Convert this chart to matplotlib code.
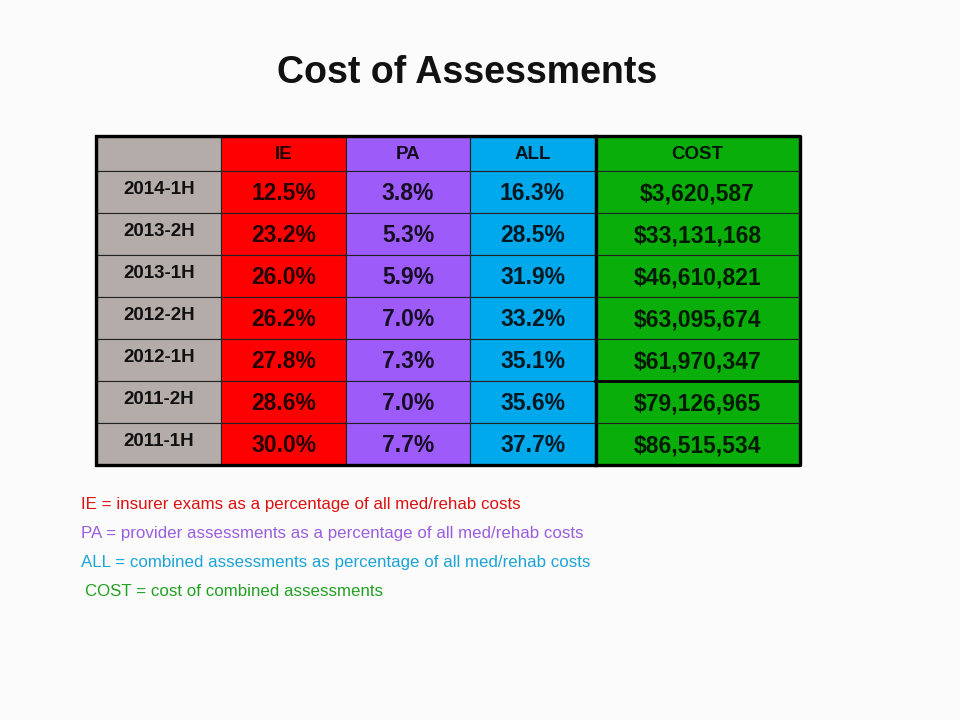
import matplotlib
matplotlib.use("Agg")
import matplotlib.pyplot as plt
from matplotlib.patches import Rectangle

plt.rcParams['font.family'] = ['Liberation Sans', 'DejaVu Sans']

# table data
periods = ['2014-1H', '2013-2H', '2013-1H', '2012-2H', '2012-1H', '2011-2H', '2011-1H']
ie_pct = [12.5, 23.2, 26.0, 26.2, 27.8, 28.6, 30.0]
pa_pct = [3.8, 5.3, 5.9, 7.0, 7.3, 7.0, 7.7]
all_pct = [16.3, 28.5, 31.9, 33.2, 35.1, 35.6, 37.7]
cost = [3620587, 33131168, 46610821, 63095674, 61970347, 79126965, 86515534]

headers = ['', 'IE', 'PA', 'ALL', 'COST']
col_colors = ['#b3aca8', '#ff0000', '#9d5cfa', '#00a9ec', '#0aae0a']

notes = [
    ('IE = insurer exams as a percentage of all med/rehab costs', '#dd1111'),
    ('PA = provider assessments as a percentage of all med/rehab costs', '#9a5ee0'),
    ('ALL = combined assessments as percentage of all med/rehab costs', '#1ca3d8'),
    ('COST = cost of combined assessments', '#22a022'),
]

# layout in pixels
col_edges = [97, 221, 346, 470, 595, 800]
head_top, head_bot = 137, 171
row_h = 42

fig = plt.figure(figsize=(9.6, 7.2), dpi=100)
fig.patch.set_facecolor('#fbfbfb')
ax = fig.add_axes([0, 0, 1, 1])
ax.set_xlim(0, 960)
ax.set_ylim(720, 0)
ax.axis('off')

ax.text(467, 83, 'Cost of Assessments', ha='center', va='baseline',
        fontsize=27, fontweight='bold', color='#111111')

columns = [
    periods,
    [f'{v:.1f}%' for v in ie_pct],
    [f'{v:.1f}%' for v in pa_pct],
    [f'{v:.1f}%' for v in all_pct],
    [f'${v:,}' for v in cost],
]

for c in range(5):
    x0, x1 = col_edges[c], col_edges[c + 1]
    xm = (x0 + x1) / 2
    # header cell
    ax.add_patch(Rectangle((x0, head_top), x1 - x0, head_bot - head_top,
                           facecolor=col_colors[c], edgecolor='#222222', lw=0.8))
    ax.text(xm, 159, headers[c], ha='center', va='baseline', fontsize=13.5,
            fontweight='bold', color='black', alpha=0.88)
    for r, val in enumerate(columns[c]):
        y0 = head_bot + r * row_h
        ax.add_patch(Rectangle((x0, y0), x1 - x0, row_h,
                               facecolor=col_colors[c], edgecolor='#222222', lw=0.8))
        if c == 0:
            ax.text(xm, y0 + 23, val, ha='center', va='baseline', fontsize=13.5,
                    fontweight='bold', color='black', alpha=0.9)
        else:
            ax.text(xm, y0 + 29, val, ha='center', va='baseline', fontsize=16.5,
                    fontweight='bold', color='black', alpha=0.85)

table_bot = head_bot + len(periods) * row_h
# thick outer borders
ax.add_patch(Rectangle((col_edges[0] - 1, head_top - 1), col_edges[4] - col_edges[0] + 2,
                       table_bot - head_top + 1, facecolor='none', edgecolor='black', lw=2.4))
ax.plot([col_edges[4], col_edges[5], col_edges[5], col_edges[4]],
        [head_top - 1, head_top - 1, table_bot, table_bot], color='black', lw=2.4)
ax.plot([col_edges[4], col_edges[5]], [head_bot + 5 * row_h] * 2, color='black', lw=2.0)

for i, (txt, colr) in enumerate(notes):
    x = 85 if i == 3 else 81
    ax.text(x, 509 + i * 29, txt, ha='left', va='baseline', fontsize=12.2, color=colr)

fig.savefig('out.png', dpi=100, facecolor=fig.get_facecolor())
